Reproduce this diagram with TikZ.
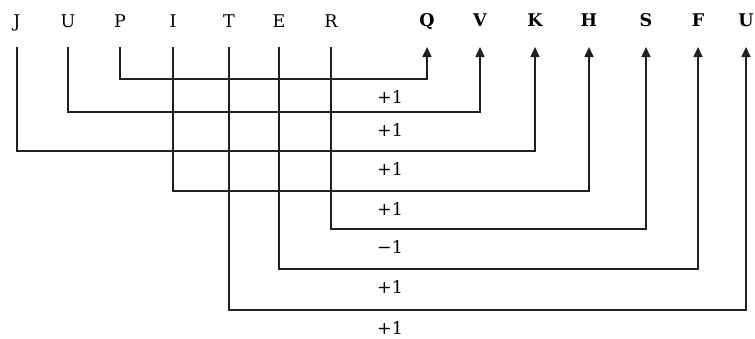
\documentclass[tikz,border=0pt]{standalone}
\usepackage{fontspec}
\setmainfont{DejaVu Serif}
\usepackage{xcolor}
\usetikzlibrary{arrows.meta}
\definecolor{Ink}{RGB}{35,31,32}

\begin{document}
\begin{tikzpicture}[x=1pt, y=-1pt, font=\fontsize{17.5}{21}\selectfont,
		letter/.style={inner sep=0pt, text height=13pt, text depth=0pt, anchor=base, outer ysep=20pt},
		code/.style={letter, font=\fontsize{17.5}{21}\selectfont\bfseries, outer ysep=21pt},
		link/.style={Ink, line width=1.5pt, -{Triangle[length=10pt, width=9pt]}},
		steplabel/.style={inner sep=0pt, anchor=base west}]
		\useasboundingbox (0,0) rectangle (755,338);
		
		% original word
		\node[letter] (J) at (17,27) {J};
		\node[letter] (U) at (68,27) {U};
		\node[letter] (P) at (120,27) {P};
		\node[letter] (I) at (173,27) {I};
		\node[letter] (T) at (229,27) {T};
		\node[letter] (E) at (279,27) {E};
		\node[letter] (R) at (331,27) {R};
		
		% coded word
		\node[code] (cQ) at (427,26) {Q};
		\node[code] (cV) at (480,26) {V};
		\node[code] (cK) at (535,26) {K};
		\node[code] (cH) at (589,26) {H};
		\node[code] (cS) at (646,26) {S};
		\node[code] (cF) at (698,26) {F};
		\node[code] (cU) at (746,26) {U};
		
		% links with their shifts
		\foreach \a/\b/\lvl/\lab in {P/cQ/79/+1, U/cV/112/+1, J/cK/151/+1, I/cH/191/+1,
				R/cS/229/−1, E/cF/269/+1, T/cU/310/+1} {
			\draw[link] (\a.south) |- (\b.south |- 0,\lvl) -- (\b.south);
			\node[steplabel] (s\a) at (377,\lvl+24) {\lab};
		}
	\end{tikzpicture}
\end{document}
